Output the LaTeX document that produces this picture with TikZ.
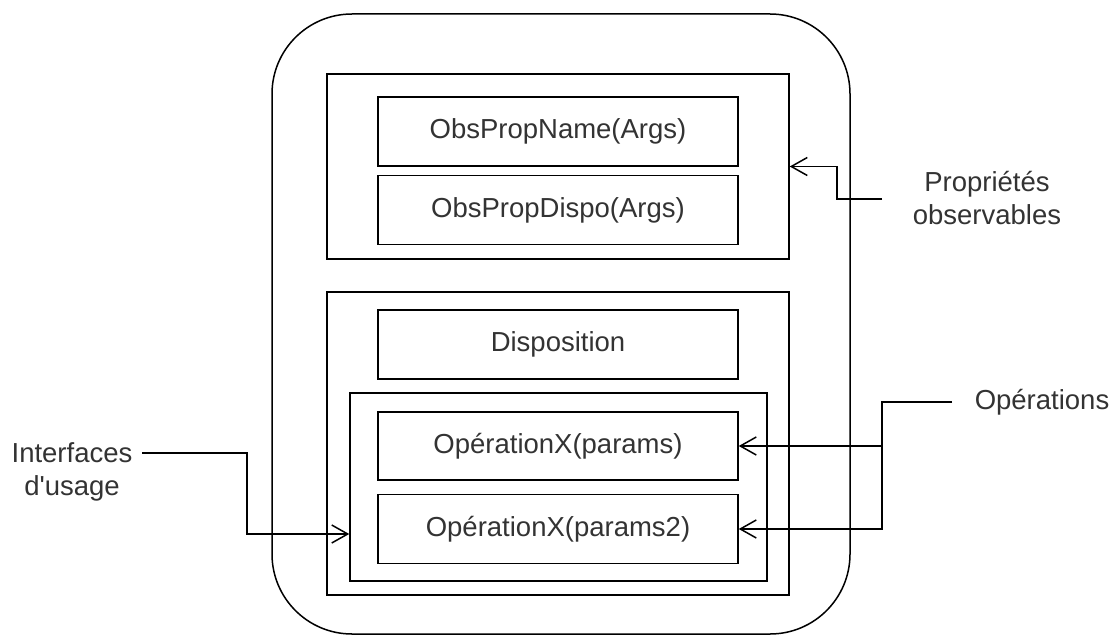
\documentclass[tikz,border=0pt]{standalone}
\usepackage{fontspec}
\setmainfont{Liberation Sans}
\usepackage{tikz}
\usetikzlibrary{arrows.meta,positioning,calc}

\newcommand{\boxfont}{\fontsize{27.5}{33}\selectfont}

\begin{document}
\begin{tikzpicture}[
    x=1pt, y=-1pt,
    >={Straight Barb[length=16pt,width=18pt]},
    line width=1.5pt,
    block/.style={draw, rectangle, minimum height=69pt, minimum width=360pt, align=center, font=\boxfont, text=black!80},
    frame/.style={draw, rectangle, inner sep=0pt},
    txt/.style={align=center, font=\boxfont, text=black!80, inner sep=0pt}
]
    \useasboundingbox (0,0) rectangle (1115,636);

    % artefact frame
    \node[frame, rounded corners=80pt, minimum width=578pt, minimum height=620pt] (outer) at (561,324) {};

    % observable properties
    \node[frame, minimum width=462pt, minimum height=185pt] (topsec) at (558,166.5) {};
    \node[block] (obsname) at (558,131.5) {ObsPropName(Args)};
    \node[block, below=8pt of obsname] (obsdispo) {ObsPropDispo(Args)};

    % operations
    \node[frame, minimum width=462pt, minimum height=303pt] (lowsec) at (558,443.5) {};
    \node[block] (dispo) at (558,344.5) {Disposition};
    \node[frame, minimum width=417pt, minimum height=188pt] (iface) at (558.5,487) {};
    \node[block, minimum height=68pt] (op1) at (558,446) {OpérationX(params)};
    \node[block, below=13pt of op1] (op2) {OpérationX(params2)};

    % side labels
    \node[txt] (propslbl) at (987,198) {Propriétés\\observables};
    \node[txt] (opslbl) at (1042,402) {Opérations};
    \node[txt] (ifacelbl) at (72,472) {Interfaces\\d\textquotesingle usage};

    \coordinate (p_in) at (882,199);
    \coordinate (o_in) at (952,402);
    \coordinate (i_in) at (142,453);

    \draw[->] (p_in) -- ++(-45,0) |- (topsec.east);

    \draw[->] (o_in) -- ++(-70,0) |- (op1.east);
    \draw[->] (o_in) ++(-70,0) |- (op2.east);

    \draw[->] (i_in) -- ++(105,0) |- ($(iface.west)+(0,47)$);

\end{tikzpicture}
\end{document}
